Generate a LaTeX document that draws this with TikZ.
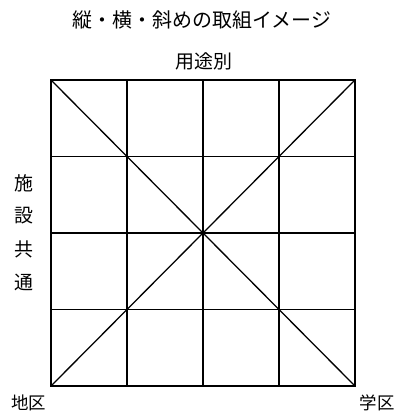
\documentclass[tikz,border=0pt]{standalone}
\usepackage{fontspec}
\setmainfont{Noto Sans CJK JP}
\usetikzlibrary{positioning}

\begin{document}
\begin{tikzpicture}[x=1bp, y=-1bp, line width=1.3bp,
    label text/.style={font=\fontsize{19}{21}\selectfont, inner sep=0pt}]

        % Picture frame
        \useasboundingbox (0,0) rectangle (399,413);

        % Title and labels
        \node[label text, font=\fontsize{20}{22}\selectfont] (title) at (202,20) {縦・横・斜めの取組イメージ};
        \node[label text] (youto) at (204,61) {用途別};
        \node[label text, font=\fontsize{17.5}{19}\selectfont] (chiku) at (29,403) {地区};
        \node[label text, font=\fontsize{17.5}{19}\selectfont] (gakku) at (377,403) {学区};

        % Vertical label on the left
        \foreach \ch [count=\i] in {施,設,共,通} {
          \node[label text] (shisetsu\i) at (24,150+33*\i) {\ch};
        }

        % 4x4 grid
        \begin{scope}[shift={(51,80)}]
          \draw (0,0) rectangle (304,306);
          \foreach \k in {1,2,3} {
            \draw (76*\k,0) -- (76*\k,306);
            \draw (0,76.5*\k) -- (304,76.5*\k);
          }
          % Diagonals
          \draw (0,0) -- (304,306);
          \draw (304,0) -- (0,306);
        \end{scope}

\end{tikzpicture}
\end{document}
